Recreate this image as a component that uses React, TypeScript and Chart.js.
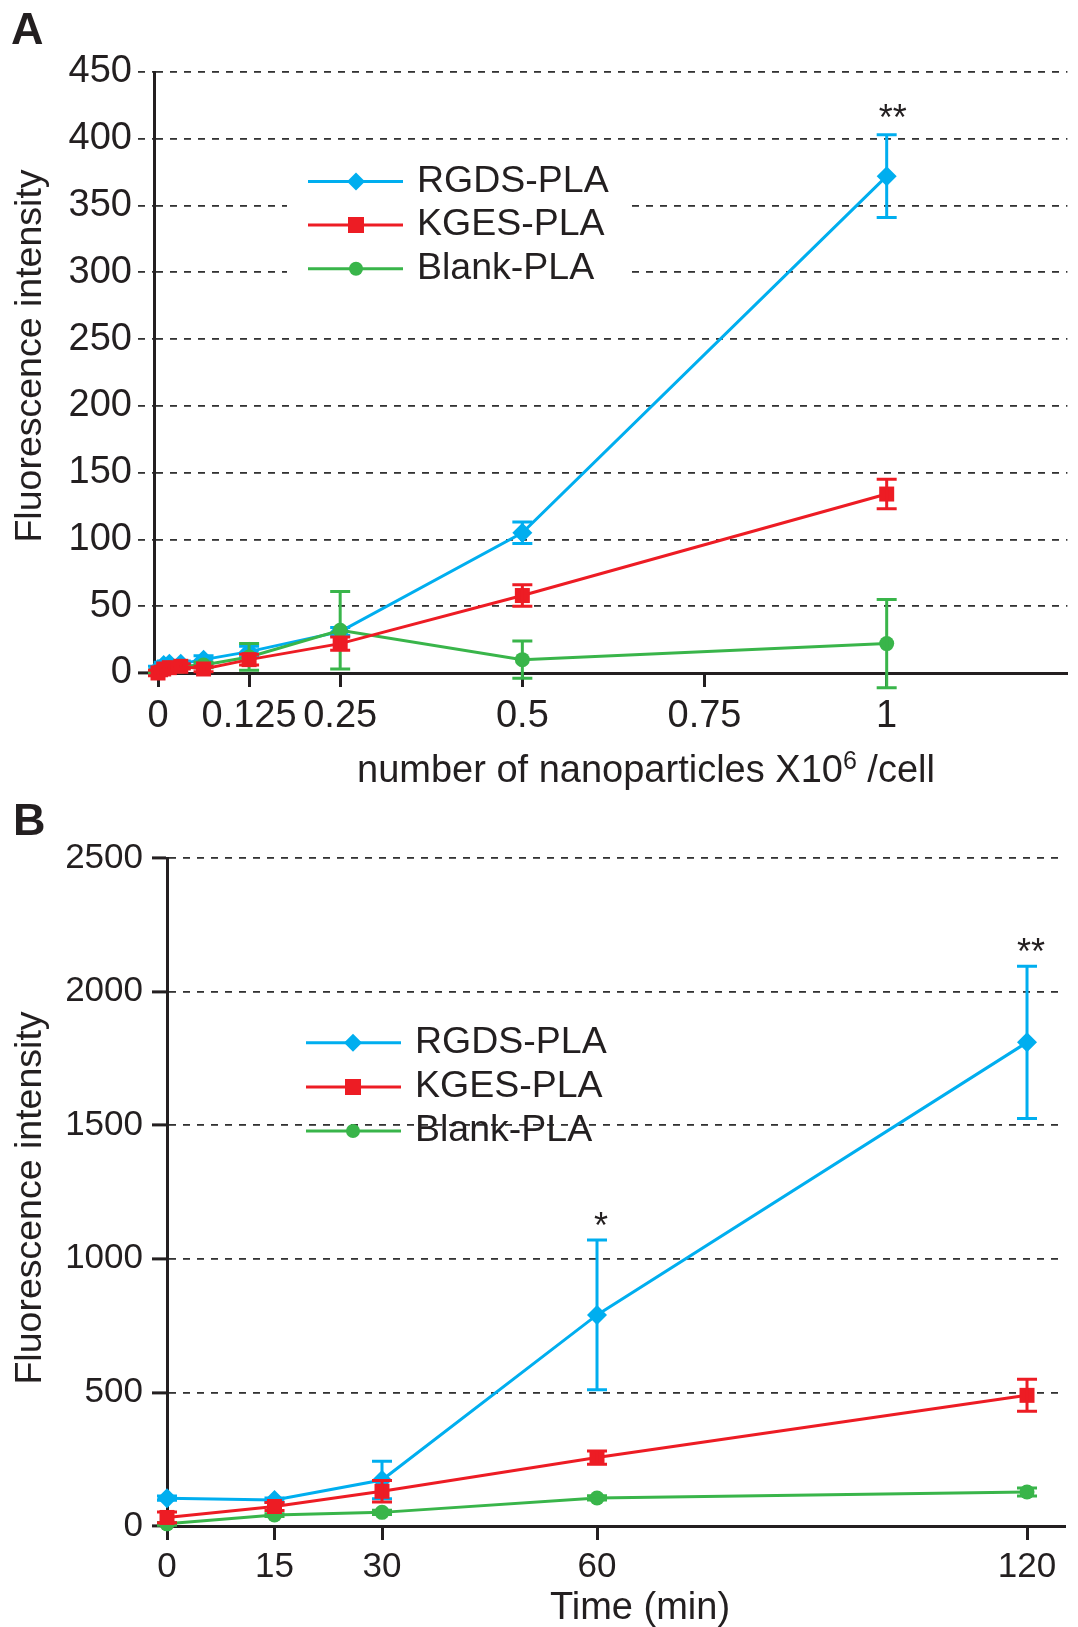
import React, { useEffect, useRef } from 'react';
import { Chart, registerables } from 'chart.js';

Chart.register(...registerables);

const FF = "'Liberation Sans', Arial, Helvetica, sans-serif";
const INK = '#231f20';
const GRID = '#333333';
const BLUE = '#00aeef';
const RED = '#ed1c24';
const GREEN = '#39b54a';

const seriesNames = ['RGDS-PLA', 'KGES-PLA', 'Blank-PLA'];

// ---- Panel A: dose ----
const doseX = [0, 0.0078, 0.0156, 0.03125, 0.0625, 0.125, 0.25, 0.5, 1];
const doseRGDS = [3, 6, 7, 7, 10, 16, 31, 105, 372];
const doseRGDSErr = [2, 2, 2, 2, 3, 4, 3, 8, 31];
const doseKGES = [0, 3, 4, 5, 3, 10, 22, 58, 134];
const doseKGESErr = [2, 2, 2, 2, 2, 4, 5, 8, 11];
const doseBlank = [1, 3, 4, 5, 6, 12, 32, 10, 22];
const doseBlankErr = [1, 1, 1, 1, 2, 10, 29, 14, 33];
const doseXTicks = [0, 0.125, 0.25, 0.5, 0.75, 1];
const doseXTickLabels = ['0', '0.125', '0.25', '0.5', '0.75', '1'];
const doseYTicks = [0, 50, 100, 150, 200, 250, 300, 350, 400, 450];
const doseSigIndex = [8];
const doseSigLabel = ['**'];

// ---- Panel B: time ----
const timeX = [0, 15, 30, 60, 120];
const timeRGDS = [104, 97, 172, 790, 1810];
const timeRGDSErr = [8, 8, 70, 280, 285];
const timeKGES = [32, 73, 130, 256, 489];
const timeKGESErr = [20, 15, 40, 25, 60];
const timeBlank = [8, 41, 51, 105, 127];
const timeBlankErr = [5, 5, 8, 8, 15];
const timeXTicks = [0, 15, 30, 60, 120];
const timeXTickLabels = ['0', '15', '30', '60', '120'];
const timeYTicks = [0, 500, 1000, 1500, 2000, 2500];
const timeSigIndex = [3, 4];
const timeSigLabel = ['*', '**'];

const W = 1078;

function drawMarker(ctx: CanvasRenderingContext2D, style: string, x: number, y: number, r: number) {
  ctx.beginPath();
  if (style === 'rectRot') {
    ctx.moveTo(x - r, y);
    ctx.lineTo(x, y - r);
    ctx.lineTo(x + r, y);
    ctx.lineTo(x, y + r);
    ctx.closePath();
  } else if (style === 'rect') {
    const s = Math.SQRT1_2 * r;
    ctx.rect(x - s, y - s, 2 * s, 2 * s);
  } else {
    ctx.arc(x, y, r, 0, Math.PI * 2);
  }
  ctx.fill();
}

const errorBarPlugin = {
  id: 'errorBars',
  afterDatasetDraw(chart: any, args: any) {
    const ds = chart.data.datasets[args.index];
    const errs: number[] | undefined = ds.errors;
    if (!errs) return;
    const ys = chart.scales.y;
    const ctx = chart.ctx as CanvasRenderingContext2D;
    ctx.save();
    ctx.strokeStyle = ds.borderColor;
    ctx.lineWidth = 3;
    args.meta.data.forEach((pt: any, i: number) => {
      const v = ds.data[i].y;
      const e = errs[i];
      if (!e) return;
      const yt = ys.getPixelForValue(v + e);
      const yb = ys.getPixelForValue(v - e);
      const x = pt.x;
      ctx.beginPath();
      ctx.moveTo(x, yt);
      ctx.lineTo(x, yb);
      ctx.moveTo(x - 10, yt);
      ctx.lineTo(x + 10, yt);
      ctx.moveTo(x - 10, yb);
      ctx.lineTo(x + 10, yb);
      ctx.stroke();
    });
    ctx.restore();
  },
};

const decorPlugin = {
  id: 'decor',
  beforeDatasetsDraw(chart: any, _a: any, o: any) {
    if (!o.legendBox) return;
    const ctx = chart.ctx as CanvasRenderingContext2D;
    ctx.save();
    ctx.fillStyle = '#ffffff';
    const b = o.legendBox;
    ctx.fillRect(b.x, b.y, b.w, b.h);
    ctx.restore();
  },
  afterDraw(chart: any, _a: any, o: any) {
    const ctx = chart.ctx as CanvasRenderingContext2D;
    ctx.save();
    ctx.fillStyle = INK;
    // panel letter
    ctx.font = `bold 45px ${FF}`;
    ctx.textAlign = 'left';
    ctx.textBaseline = 'alphabetic';
    ctx.fillText(o.panel.text, o.panel.x, o.panel.y);
    // y title
    ctx.save();
    ctx.translate(o.yTitle.x, o.yTitle.y);
    ctx.rotate(-Math.PI / 2);
    ctx.font = `37.5px ${FF}`;
    ctx.textAlign = 'center';
    ctx.textBaseline = 'middle';
    ctx.fillText(o.yTitle.text, 0, 0);
    ctx.restore();
    // x title (with optional superscript)
    const xt = o.xTitle;
    const mainFont = `38px ${FF}`;
    const supFont = `25px ${FF}`;
    ctx.textBaseline = 'alphabetic';
    ctx.textAlign = 'left';
    ctx.font = mainFont;
    const w1 = ctx.measureText(xt.text).width;
    const w3 = xt.tail ? ctx.measureText(xt.tail).width : 0;
    ctx.font = supFont;
    const w2 = xt.sup ? ctx.measureText(xt.sup).width : 0;
    let x0 = xt.cx - (w1 + w2 + w3) / 2;
    ctx.font = mainFont;
    ctx.fillText(xt.text, x0, xt.y);
    x0 += w1;
    if (xt.sup) {
      ctx.font = supFont;
      ctx.fillText(xt.sup, x0, xt.y - 13);
      x0 += w2;
    }
    if (xt.tail) {
      ctx.font = mainFont;
      ctx.fillText(xt.tail, x0, xt.y);
    }
    // legend
    const lg = o.legend;
    chart.data.datasets.forEach((ds: any, i: number) => {
      const y = lg.rows[i];
      ctx.strokeStyle = ds.borderColor;
      ctx.lineWidth = 3;
      ctx.beginPath();
      ctx.moveTo(lg.x1, y);
      ctx.lineTo(lg.x2, y);
      ctx.stroke();
      ctx.fillStyle = ds.borderColor;
      drawMarker(ctx, ds.pointStyle, lg.xm, y, lg.radius[i]);
      ctx.fillStyle = INK;
      ctx.font = `37.5px ${FF}`;
      ctx.textAlign = 'left';
      ctx.textBaseline = 'middle';
      ctx.fillText(ds.label, lg.tx, y);
    });
    // significance stars above RGDS error bars
    const ds0 = chart.data.datasets[0];
    const meta0 = chart.getDatasetMeta(0);
    const ys = chart.scales.y;
    ctx.font = `36px ${FF}`;
    ctx.textAlign = 'center';
    ctx.textBaseline = 'alphabetic';
    ctx.fillStyle = INK;
    o.stars.idx.forEach((idx: number, k: number) => {
      const v = ds0.data[idx].y + ds0.errors[idx];
      const yTop = ys.getPixelForValue(v);
      ctx.fillText(o.stars.labels[k], meta0.data[idx].x + o.stars.dx, yTop + o.stars.dy);
    });
    ctx.restore();
  },
};

function makeDataset(label: string, xs: number[], ys: number[], errs: number[], color: string, style: string, radius: number, order: number) {
  return {
    label,
    data: xs.map((x, i) => ({ x, y: ys[i] })),
    errors: errs,
    borderColor: color,
    backgroundColor: color,
    pointBackgroundColor: color,
    pointBorderColor: color,
    pointBorderWidth: 0,
    borderWidth: 3,
    pointStyle: style,
    pointRadius: radius,
    tension: 0,
    clip: false,
    order,
  };
}

// Layout (page pixels)
const A_H = 790;
const A_LEFT = 154, A_RIGHT = 1069, A_TOP = 72, A_BOTTOM = 673;
const B_OFF = 790;
const B_H = 837;
const B_LEFT = 167, B_RIGHT = 1065, B_TOP = 858 - B_OFF, B_BOTTOM = 1526 - B_OFF;

const isZero = (c: any) => c.tick && c.tick.value === 0;

const configA: any = {
  type: 'line',
  data: {
    datasets: [
      makeDataset(seriesNames[0], doseX, doseRGDS, doseRGDSErr, BLUE, 'rectRot', 10, 2),
      makeDataset(seriesNames[1], doseX, doseKGES, doseKGESErr, RED, 'rect', 10.6, 0),
      makeDataset(seriesNames[2], doseX, doseBlank, doseBlankErr, GREEN, 'circle', 7.5, 1),
    ],
  },
  options: {
    animation: false,
    responsive: false,
    devicePixelRatio: 1,
    events: [],
    layout: { padding: { left: 0, top: A_TOP, right: W - A_RIGHT, bottom: 0 } },
    scales: {
      x: {
        type: 'linear',
        min: -0.0055,
        max: 1.248,
        afterBuildTicks: (s: any) => { s.ticks = doseXTicks.map((v) => ({ value: v })); },
        afterFit: (s: any) => { s.height = A_H - A_BOTTOM; },
        ticks: {
          callback: (_v: any, i: number) => doseXTickLabels[i],
          font: { family: FF, size: 38 },
          color: INK,
          padding: 7,
          maxRotation: 0,
          autoSkip: false,
        },
        grid: { drawOnChartArea: false, drawTicks: true, tickLength: 14, tickColor: INK, tickWidth: 3 },
        border: { color: INK, width: 3 },
      },
      y: {
        min: 0,
        max: 450,
        afterBuildTicks: (s: any) => { s.ticks = doseYTicks.map((v) => ({ value: v })); },
        afterFit: (s: any) => { s.width = A_LEFT; },
        ticks: {
          callback: (v: any) => String(v),
          font: { family: FF, size: 38 },
          color: INK,
          padding: 6,
        },
        grid: {
          color: (c: any) => (isZero(c) ? 'rgba(0,0,0,0)' : GRID),
          lineWidth: 1.8,
          tickLength: 16,
          tickColor: (c: any) => (isZero(c) ? INK : GRID),
          tickWidth: (c: any) => (isZero(c) ? 3 : 1.8),
          tickBorderDash: (c: any) => (isZero(c) ? [] : [7, 7]),
        },
        border: { color: INK, width: 3, dash: [7, 7] },
      },
    },
    plugins: {
      legend: { display: false },
      tooltip: { enabled: false },
      decor: {
        panel: { text: 'A', x: 11, y: 44 },
        yTitle: { text: 'Fluorescence intensity', x: 31, y: 356 },
        xTitle: { text: 'number of nanoparticles X10', sup: '6', tail: ' /cell', cx: 646, y: 782 },
        legend: { x1: 308, x2: 403, xm: 356, tx: 417, rows: [181.6, 225, 268.7], radius: [9, 11.3, 7] },
        legendBox: { x: 287, y: 150, w: 343, h: 140 },
        stars: { idx: doseSigIndex, labels: doseSigLabel, dx: 6, dy: -5 },
      },
    },
  },
  plugins: [errorBarPlugin, decorPlugin],
};

const configB: any = {
  type: 'line',
  data: {
    datasets: [
      makeDataset(seriesNames[0], timeX, timeRGDS, timeRGDSErr, BLUE, 'rectRot', 10, 2),
      makeDataset(seriesNames[1], timeX, timeKGES, timeKGESErr, RED, 'rect', 10.6, 0),
      makeDataset(seriesNames[2], timeX, timeBlank, timeBlankErr, GREEN, 'circle', 7.5, 1),
    ],
  },
  options: {
    animation: false,
    responsive: false,
    devicePixelRatio: 1,
    events: [],
    layout: { padding: { left: 0, top: B_TOP, right: W - B_RIGHT, bottom: 0 } },
    scales: {
      x: {
        type: 'linear',
        min: 0,
        max: 125.3,
        afterBuildTicks: (s: any) => { s.ticks = timeXTicks.map((v) => ({ value: v })); },
        afterFit: (s: any) => { s.height = B_H - B_BOTTOM; },
        ticks: {
          callback: (_v: any, i: number) => timeXTickLabels[i],
          font: { family: FF, size: 35 },
          color: INK,
          padding: 6,
          maxRotation: 0,
          autoSkip: false,
        },
        grid: { drawOnChartArea: false, drawTicks: true, tickLength: 14, tickColor: INK, tickWidth: 3 },
        border: { color: INK, width: 3 },
      },
      y: {
        min: 0,
        max: 2500,
        afterBuildTicks: (s: any) => { s.ticks = timeYTicks.map((v) => ({ value: v })); },
        afterFit: (s: any) => { s.width = B_LEFT; },
        ticks: {
          callback: (v: any) => String(v),
          font: { family: FF, size: 35 },
          color: INK,
          padding: 9,
        },
        grid: {
          color: (c: any) => (isZero(c) ? 'rgba(0,0,0,0)' : GRID),
          lineWidth: 1.8,
          tickLength: 15,
          tickColor: INK,
          tickWidth: 3,
        },
        border: { color: INK, width: 3, dash: [7, 7] },
      },
    },
    plugins: {
      legend: { display: false },
      tooltip: { enabled: false },
      decor: {
        panel: { text: 'B', x: 13, y: 835 - B_OFF },
        yTitle: { text: 'Fluorescence intensity', x: 31, y: 1198 - B_OFF },
        xTitle: { text: 'Time (min)', cx: 640, y: 1619 - B_OFF },
        legend: { x1: 306, x2: 401, xm: 353, tx: 415, rows: [1042.7 - B_OFF, 1087 - B_OFF, 1131 - B_OFF], radius: [9, 11.3, 7] },
        legendBox: null,
        stars: { idx: timeSigIndex, labels: timeSigLabel, dx: 4, dy: -2 },
      },
    },
  },
  plugins: [errorBarPlugin, decorPlugin],
};

function ChartCanvas({ config, top, height }: { config: any; top: number; height: number }) {
  const ref = useRef<HTMLCanvasElement>(null);
  useEffect(() => {
    const chart = new Chart(ref.current as HTMLCanvasElement, config);
    return () => chart.destroy();
  }, [config]);
  return (
    <canvas
      ref={ref}
      width={W}
      height={height}
      style={{ position: 'absolute', left: 0, top, width: W, height, display: 'block' }}
    />
  );
}

export default function App() {
  return (
    <div style={{ position: 'absolute', left: 0, top: 0, width: W, height: 1627, background: '#ffffff', overflow: 'hidden' }}>
      <ChartCanvas config={configA} top={0} height={A_H} />
      <ChartCanvas config={configB} top={B_OFF} height={B_H} />
    </div>
  );
}
